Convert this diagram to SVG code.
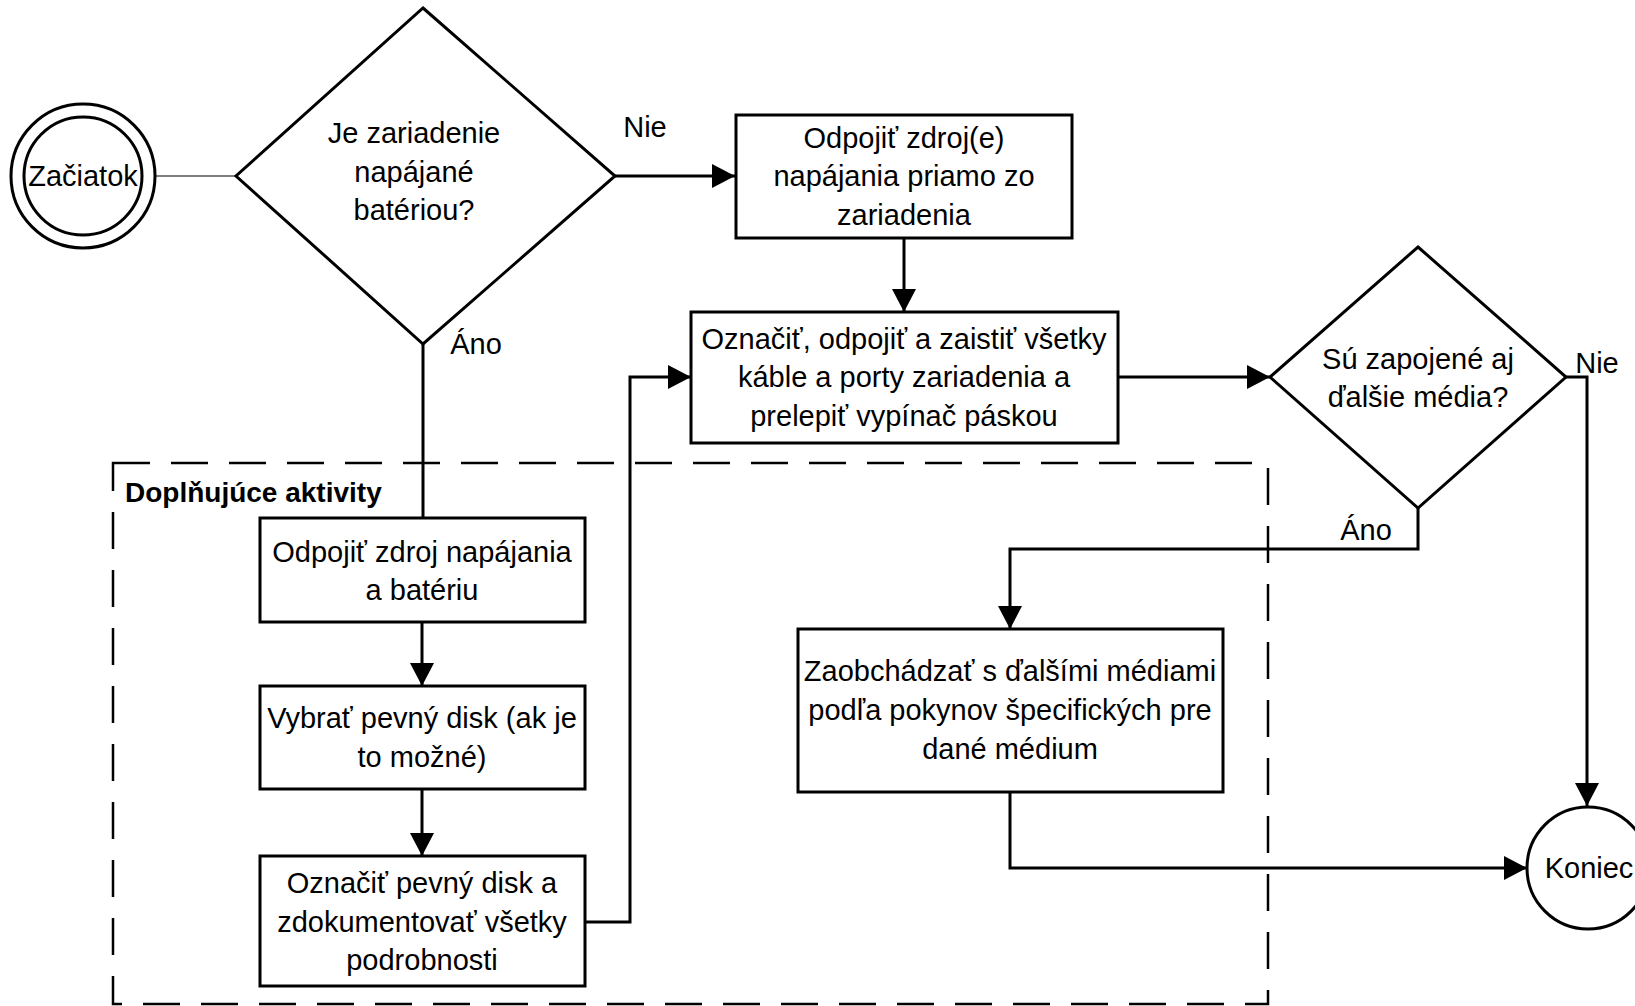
<svg xmlns="http://www.w3.org/2000/svg" width="1635" height="1006" viewBox="0 0 1635 1006">
<defs>
<marker id="arr" markerUnits="userSpaceOnUse" markerWidth="24" markerHeight="24" refX="23" refY="12" orient="auto">
<path d="M0,0 L23,12 L0,24 Z" fill="#000"/>
</marker>
<style>
.n{fill:#fff;stroke:#000;stroke-width:3}
.t{font-family:"Liberation Sans",Arial,sans-serif;font-size:29px;fill:#000;text-anchor:middle}
.l{font-family:"Liberation Sans",Arial,sans-serif;font-size:28px;fill:#000}
.c{fill:none;stroke:#000;stroke-width:3}
</style>
</defs>
<rect width="1635" height="1006" fill="#fff"/>
<g id="group-doplnujuce">
<rect x="113" y="463" width="1155" height="541" fill="none" stroke="#000" stroke-width="2.5" stroke-dasharray="37 21"/>
<text x="125" y="502" class="l" font-weight="bold">Doplňujúce aktivity</text>
</g>
<g id="connectors">
<line x1="155" y1="176" x2="236" y2="176" stroke="#000" stroke-width="1.2"/>
<line x1="615" y1="176" x2="735" y2="176" class="c" marker-end="url(#arr)"/>
<line x1="904" y1="238" x2="904" y2="312" class="c" marker-end="url(#arr)"/>
<line x1="1118" y1="377" x2="1270" y2="377" class="c" marker-end="url(#arr)"/>
<polyline points="1566,377 1587,377 1587,806" class="c" marker-end="url(#arr)"/>
<polyline points="1418,508 1418,549 1010,549 1010,629" class="c" marker-end="url(#arr)"/>
<polyline points="1010,792 1010,868 1527,868" class="c" marker-end="url(#arr)"/>
<line x1="423" y1="344" x2="423" y2="518" class="c"/>
<line x1="422" y1="622" x2="422" y2="686" class="c" marker-end="url(#arr)"/>
<line x1="422" y1="789" x2="422" y2="856" class="c" marker-end="url(#arr)"/>
<polyline points="585,922 630,922 630,377 691,377" class="c" marker-end="url(#arr)"/>
<text x="645" y="137" class="t">Nie</text>
<text x="476" y="354" class="t">Áno</text>
<text x="1597" y="373" class="t">Nie</text>
<text x="1366" y="540" class="t">Áno</text>
</g>
<g id="start">
<circle cx="83" cy="176" r="72" class="n"/>
<circle cx="83" cy="176" r="59" class="n"/>
<text x="83" y="186" class="t">Začiatok</text>
</g>
<g id="decision-battery">
<polygon points="423,8 615,176 423,344 236,176" class="n"/>
<text class="t"><tspan x="414" y="143">Je zariadenie</tspan><tspan x="414" y="182">napájané</tspan><tspan x="414" y="220">batériou?</tspan></text>
</g>
<g id="box-odpojit-zdroje">
<rect x="736" y="115" width="336" height="123" class="n"/>
<text class="t"><tspan x="904" y="148">Odpojiť zdroj(e)</tspan><tspan x="904" y="186">napájania priamo zo</tspan><tspan x="904" y="225">zariadenia</tspan></text>
</g>
<g id="box-oznacit-kable">
<rect x="691" y="312" width="427" height="131" class="n"/>
<text class="t"><tspan x="904" y="349">Označiť, odpojiť a zaistiť všetky</tspan><tspan x="904" y="387">káble a porty zariadenia a</tspan><tspan x="904" y="426">prelepiť vypínač páskou</tspan></text>
</g>
<g id="decision-media">
<polygon points="1418,247 1566,377 1418,508 1270,377" class="n"/>
<text class="t"><tspan x="1418" y="369">Sú zapojené aj</tspan><tspan x="1418" y="407">ďalšie média?</tspan></text>
</g>
<g id="box-zaobchadzat">
<rect x="798" y="629" width="425" height="163" class="n"/>
<text class="t"><tspan x="1010" y="681">Zaobchádzať s ďalšími médiami</tspan><tspan x="1010" y="720">podľa pokynov špecifických pre</tspan><tspan x="1010" y="759">dané médium</tspan></text>
</g>
<g id="end">
<circle cx="1588" cy="868" r="61" class="n"/>
<text x="1589" y="878" class="t">Koniec</text>
</g>
<g id="box-odpojit-bateriu">
<rect x="260" y="518" width="325" height="104" class="n"/>
<text class="t"><tspan x="422" y="562">Odpojiť zdroj napájania</tspan><tspan x="422" y="600">a batériu</tspan></text>
</g>
<g id="box-vybrat-disk">
<rect x="260" y="686" width="325" height="103" class="n"/>
<text class="t"><tspan x="422" y="728">Vybrať pevný disk (ak je</tspan><tspan x="422" y="767">to možné)</tspan></text>
</g>
<g id="box-oznacit-disk">
<rect x="260" y="856" width="325" height="130" class="n"/>
<text class="t"><tspan x="422" y="893">Označiť pevný disk a</tspan><tspan x="422" y="932">zdokumentovať všetky</tspan><tspan x="422" y="970">podrobnosti</tspan></text>
</g>
</svg>
